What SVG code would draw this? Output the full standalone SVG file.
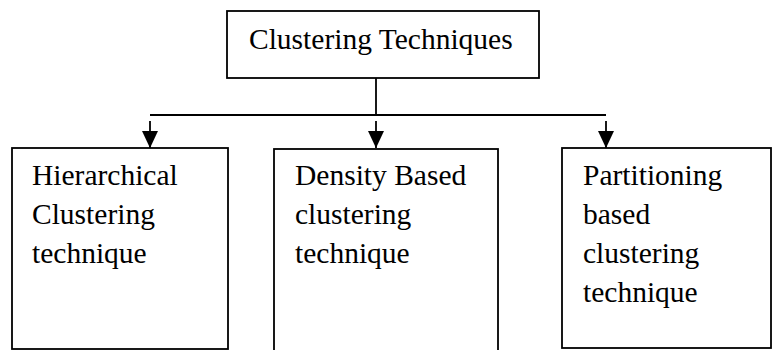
<svg xmlns="http://www.w3.org/2000/svg" width="773" height="350" viewBox="0 0 773 350">
<style>
.box{fill:#fff;stroke:#000;stroke-width:1.8}
.t{font-family:"Liberation Serif","Times New Roman",serif;font-size:29.5px;fill:#000}
.ln{stroke:#000;stroke-width:1.8;fill:none}
.arr{stroke:#000;stroke-width:1.8;fill:none;marker-end:url(#ah)}
</style>
<defs>
<marker id="ah" markerUnits="userSpaceOnUse" markerWidth="17" markerHeight="16" refX="17" refY="8" orient="auto" viewBox="0 0 17 16">
<path d="M0,0 L17,8 L0,16 Z" fill="#000"/>
</marker>
</defs>
<rect width="773" height="350" fill="#fff"/>
<g id="connectors">
<line class="ln" x1="376" y1="78" x2="376" y2="115"/>
<line class="ln" x1="150" y1="115" x2="606" y2="115"/>
<line class="arr" x1="150" y1="121" x2="150" y2="148"/>
<line class="arr" x1="376" y1="121" x2="376" y2="148"/>
<line class="arr" x1="606" y1="121" x2="606" y2="148"/>
</g>
<g id="root">
<rect class="box" x="227" y="11" width="312" height="67"/>
<text class="t" x="249" y="49">Clustering Techniques</text>
</g>
<g id="hierarchical">
<rect class="box" x="12" y="148" width="216" height="201"/>
<text class="t" x="32" y="185">Hierarchical</text>
<text class="t" x="32" y="224">Clustering</text>
<text class="t" x="32" y="263">technique</text>
</g>
<g id="density">
<rect class="box" x="274" y="149" width="224" height="210"/>
<text class="t" x="295" y="185">Density Based</text>
<text class="t" x="295" y="224">clustering</text>
<text class="t" x="295" y="263">technique</text>
</g>
<g id="partitioning">
<rect class="box" x="562" y="148" width="209" height="200"/>
<text class="t" x="583" y="185">Partitioning</text>
<text class="t" x="583" y="224">based</text>
<text class="t" x="583" y="263">clustering</text>
<text class="t" x="583" y="302">technique</text>
</g>
</svg>
